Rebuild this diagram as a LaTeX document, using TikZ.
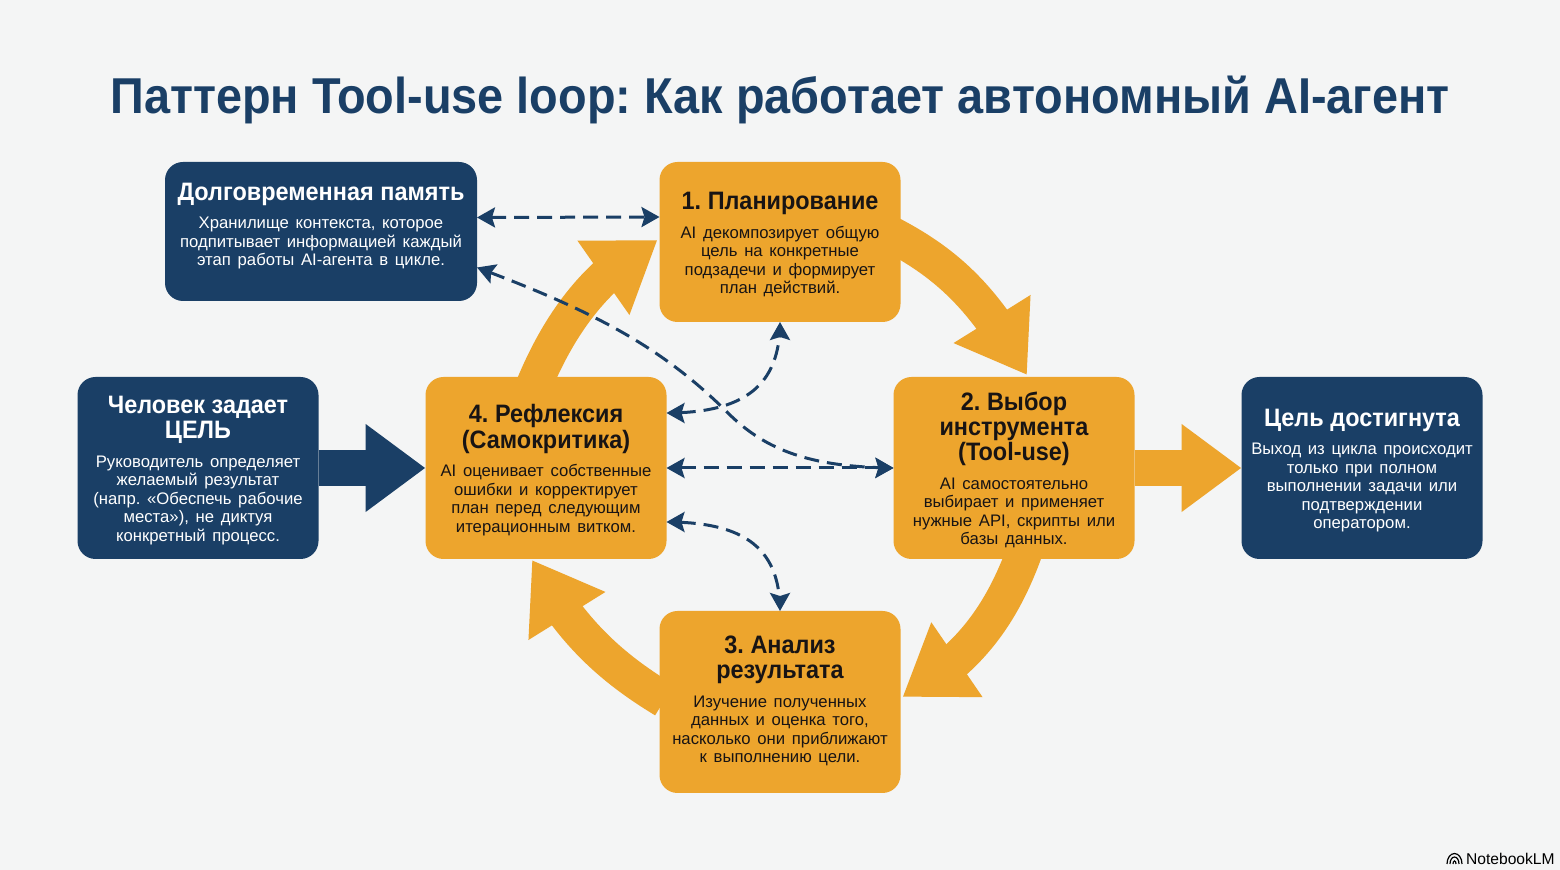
\documentclass[tikz,border=0pt]{standalone}
\usepackage{fontspec}
\setmainfont{Liberation Sans}
\newfontfamily\headfam[FakeStretch=0.93]{Liberation Sans}
\usepackage{tikz}
\usetikzlibrary{arrows.meta,bending}
\definecolor{page_gray}{RGB}{244,245,245}
\definecolor{node_navy}{RGB}{26,63,102}
\definecolor{node_orange}{RGB}{237,165,45}
\definecolor{text_dark}{RGB}{24,20,20}
\newcommand{\headfont}{\headfam\fontsize{12.6pt}{12.6pt}\selectfont\bfseries}
\newcommand{\bodyfont}{\normalfont\fontsize{8.35pt}{9.25pt}\selectfont}
\newcommand{\boxtext}[2]{\centering\headfont\rule{0pt}{11.2pt}#1\\[5pt]\bodyfont #2\par}

\begin{document}
\begin{tikzpicture}[x=0.5pt,y=-0.5pt]
    \frenchspacing
    \tikzstyle{nbox}=[rectangle,rounded corners=9pt,draw=none,inner sep=0pt,outer sep=0pt,text width=116pt,minimum height=91pt,minimum width=120.5pt]
    \tikzstyle{navy}=[nbox,fill=node_navy,text=white]
    \tikzstyle{orng}=[nbox,fill=node_orange,text=text_dark]
    \tikzstyle{bigorng}=[draw=node_orange,line width=18pt,-{Triangle[length=33pt,width=43pt]}]
    \tikzstyle{bignavy}=[draw=node_navy,line width=18pt,-{Triangle[length=30pt,width=42pt]}]
    \tikzstyle{link}=[draw=node_navy,line width=1.5pt,dash pattern=on 7.5pt off 4pt,{Stealth[length=9pt,width=10pt,inset=1.5pt,flex=0]}-{Stealth[length=9pt,width=10pt,inset=1.5pt,flex=0]}]

    \fill[page_gray] (0,0) rectangle (1560,870);

    \node[text=node_navy,font=\headfam\fontsize{25.2pt}{28pt}\selectfont\bfseries] (TITLE) at (780,100) {Паттерн Tool-use loop: Как работает автономный AI-агент};

    \node[navy,text width=150pt,minimum width=156pt,minimum height=69.5pt] (MEM) at (321,231.5) {\boxtext{Долговременная память}{Хранилище контекста, которое\\подпитывает информацией каждый\\этап работы AI-агента в цикле.\\[0.6pt]\null}};
    \node[orng,minimum height=80pt] (PL) at (780,242) {\boxtext{1. Планирование}{AI декомпозирует общую\\цель на конкретные\\подзадечи и формирует\\план действий.}};
    \node[navy] (GL) at (198,468) {\boxtext{Человек задает\\ЦЕЛЬ}{Руководитель определяет\\желаемый результат\\(напр. «Обеспечь рабочие\\места»), не диктуя\\конкретный процесс.}};
    \node[orng] (RF) at (546,468) {\boxtext{4. Рефлексия\\(Самокритика)}{AI оценивает собственные\\ошибки и корректирует\\план перед следующим\\итерационным витком.}};
    \node[orng] (TS) at (1014,468) {\boxtext{2. Выбор\\инструмента\\(Tool-use)}{AI самостоятельно\\выбирает и применяет\\нужные API, скрипты или\\базы данных.}};
    \node[navy] (DN) at (1362,468) {\boxtext{Цель достигнута}{Выход из цикла происходит\\только при полном\\выполнении задачи или\\подтверждении\\оператором.}};
    \node[orng] (AN) at (780,702) {\boxtext{3. Анализ\\результата}{Изучение полученных\\данных и оценка того,\\насколько они приближают\\к выполнению цели.\\[-4.2pt]\null}};

    \node[text=black,inner sep=0pt,font=\fontsize{7.8pt}{8pt}\selectfont,anchor=east] (BRAND) at (1555,859) {NotebookLM};
    \draw[black,line width=0.6pt] (1447,864) arc (180:360:7.5 and 10.5) (1450,864) arc (180:360:4.5 and 7) (1453,864) arc (180:360:1.5 and 3);

    % main loop
    \draw[bigorng] ([xshift=-5pt,yshift=4pt]PL.east) .. controls (950,265) and (986,301) .. ([xshift=6.5pt,yshift=1pt]TS.north);
    \draw[bigorng] ([xshift=5pt,yshift=3pt]TS.south) .. controls (1003,610) and (971,661) .. ([xshift=1pt,yshift=2.5pt]AN.east);
    \draw[bigorng] ([xshift=2.5pt,yshift=1pt]AN.west) .. controls (615,670) and (570,633) .. ([xshift=-7pt,yshift=-0.5pt]RF.south);
    \draw[bigorng] ([xshift=-6pt,yshift=-4pt]RF.north) .. controls (555,335) and (590,274) .. ([xshift=-1pt,yshift=1pt]PL.west);

    % in and out
    \draw[bignavy] (GL.east) -- (RF.west);
    \draw[bigorng,-{Triangle[length=30pt,width=42pt]}] (TS.east) -- (DN.west);

    % feedback links
    \path[link] ([yshift=7pt]MEM.east) -- ([yshift=12.5pt]PL.west);
    \path[link] ([yshift=-18pt]MEM.east) .. controls (590,310) and (660,345) .. (728,413) .. controls (770,455) and (820,467) .. (TS.west);
    \path[link] ([yshift=27.5pt]RF.east) .. controls (745,413) and (780,385) .. (PL.south);
    \path[link] (RF.east) -- (TS.west);
    \path[link] ([yshift=-27pt]RF.east) .. controls (740,522) and (780,545) .. (AN.north);
\end{tikzpicture}
\end{document}
